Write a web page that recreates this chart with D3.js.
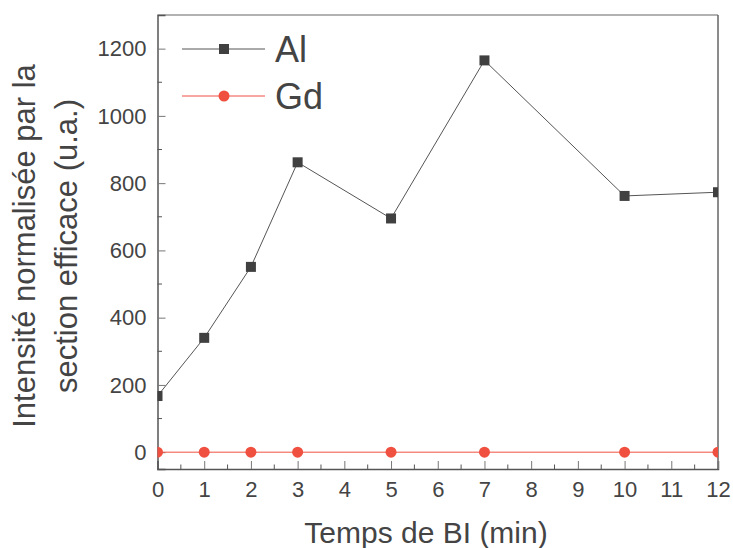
<!DOCTYPE html>
<html><head><meta charset="utf-8">
<script src="https://cdn.jsdelivr.net/npm/d3@7"></script>
<style>body{margin:0;background:#fff;}svg{display:block;font-family:"Liberation Sans",Arial,sans-serif;}</style>
</head><body>
<svg id="c" width="733" height="548"></svg>
<script>
const times = [0, 1, 2, 3, 5, 7, 10, 12];
const alValues = [167, 340, 551, 862, 695, 1165, 762, 773];
const gdValues = [0, 0, 0, 0, 0, 0, 0, 0];
const xTicks = [0,1,2,3,4,5,6,7,8,9,10,11,12];
const yTicks = [0,200,400,600,800,1000,1200];
const seriesNames = ["Al", "Gd"];

const svg = d3.select("#c");
const L = 157.5, R = 718, T = 15, B = 469;
const x = d3.scaleLinear().domain([0,12]).range([L,R]);
const y = d3.scaleLinear().domain([-50,1300]).range([B,T]);
const axisCol = "#555", textCol = "#444";

// frame
svg.append("line").attr("x1",L).attr("x2",R).attr("y1",T).attr("y2",T).attr("stroke","#999").attr("stroke-width",1.5);
svg.append("line").attr("x1",R).attr("x2",R).attr("y1",T).attr("y2",B).attr("stroke","#666").attr("stroke-width",1.5);

// x axis
const xMinor = d3.range(0.5,12,1);
const gx = svg.append("g").attr("transform",`translate(0,${B})`);
gx.call(d3.axisBottom(x).tickValues(xTicks).tickSize(-8).tickPadding(12).tickFormat(d3.format("d")));
gx.selectAll(".minor").data(xMinor).enter().append("line").attr("class","minor")
  .attr("x1",d=>x(d)).attr("x2",d=>x(d)).attr("y1",0).attr("y2",-4.5).attr("stroke",axisCol);
// y axis
const yMinor = d3.range(100,1300,200);
const gy = svg.append("g").attr("transform",`translate(${L},0)`);
gy.call(d3.axisLeft(y).tickValues(yTicks).tickSize(-8).tickPadding(11).tickFormat(d3.format("d")));
gy.selectAll(".minor").data(yMinor).enter().append("line").attr("class","minor")
  .attr("y1",d=>y(d)).attr("y2",d=>y(d)).attr("x1",0).attr("x2",4.5).attr("stroke",axisCol);

[gx,gy].forEach(g=>{
  g.select(".domain").attr("stroke",axisCol).attr("stroke-width",1.5);
  g.selectAll(".tick line").attr("stroke","#777").attr("stroke-width",1);
  g.selectAll(".tick text").attr("fill",textCol).style("font-size","22px");
});
gy.selectAll(".tick text").attr("dy","0.33em");

// clip
svg.append("clipPath").attr("id","clip").append("rect").attr("x",L).attr("y",T).attr("width",R-L).attr("height",B-T);
const plot = svg.append("g").attr("clip-path","url(#clip)");

const alCol = "#404040", gdCol = "#f05040";
const line = d3.line().x(d=>x(d[0])).y(d=>y(d[1]));
const alData = times.map((t,i)=>[t,alValues[i]]);
const gdData = times.map((t,i)=>[t,gdValues[i]]);

plot.append("path").datum(gdData).attr("d",line).attr("fill","none").attr("stroke",gdCol).attr("stroke-width",1);
plot.append("path").datum(alData).attr("d",line).attr("fill","none").attr("stroke","#555").attr("stroke-width",1);
plot.selectAll(".sq").data(alData).enter().append("rect")
  .attr("x",d=>x(d[0])-5).attr("y",d=>y(d[1])-5).attr("width",10).attr("height",10).attr("fill",alCol);
plot.selectAll(".ci").data(gdData).enter().append("circle")
  .attr("cx",d=>x(d[0])).attr("cy",d=>y(d[1])).attr("r",5.5).attr("fill",gdCol);

// legend
const lg = svg.append("g");
const ly = [49, 96];
lg.append("line").attr("x1",182).attr("x2",265).attr("y1",ly[0]).attr("y2",ly[0]).attr("stroke","#555");
lg.append("rect").attr("x",219).attr("y",ly[0]-5).attr("width",10).attr("height",10).attr("fill",alCol);
lg.append("line").attr("x1",182).attr("x2",265).attr("y1",ly[1]).attr("y2",ly[1]).attr("stroke",gdCol);
lg.append("circle").attr("cx",224).attr("cy",ly[1]).attr("r",5.5).attr("fill",gdCol);
seriesNames.forEach((n,i)=>{
  lg.append("text").attr("x",275).attr("y",ly[i]).attr("dy","0.36em").attr("fill",textCol).style("font-size","36px").text(n);
});

// axis titles
svg.append("text").attr("x",426).attr("y",543).attr("text-anchor","middle").attr("fill",textCol).style("font-size","30px").text("Temps de BI (min)");
const yt = svg.append("text").attr("transform","translate(0,246) rotate(-90)").attr("text-anchor","middle").attr("fill",textCol).style("font-size","31px");
yt.append("tspan").attr("x",0).attr("y",35).text("Intensité normalisée par la");
yt.append("tspan").attr("x",0).attr("y",77).text("section efficace (u.a.)");
</script>
</body></html>
